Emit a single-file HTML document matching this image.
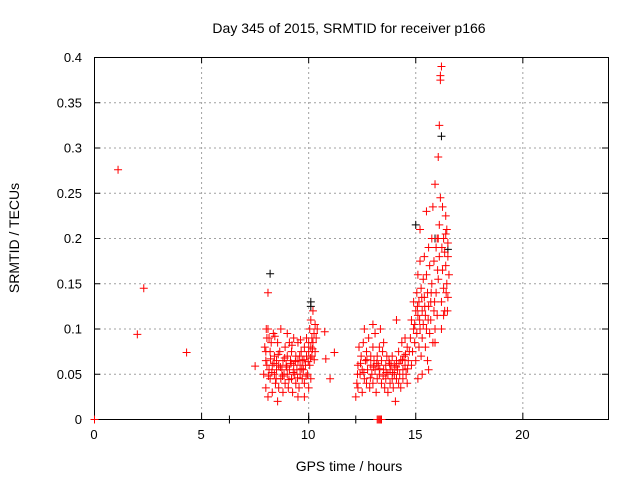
<!DOCTYPE html>
<html><head><meta charset="utf-8"><style>
body{margin:0;background:#fff}
svg{display:block;font-family:"Liberation Sans",sans-serif}
</style></head><body>
<svg id="c" width="640" height="480"></svg>
<script>
const xTicks=[0,5,10,15,20];
const yTicks=[0,0.05,0.1,0.15,0.2,0.25,0.3,0.35,0.4];
const yTickLabels=["0","0.05","0.1","0.15","0.2","0.25","0.3","0.35","0.4"];
const redSeries=[
[0,0],[1.1,.276],[2.3,.145],[2.0,.094],[4.3,.074],[7.5,.059],[8.1,.14],[10.8,.067],[11.2,.074],[11.0,.045],[10.75,.097],
[13.2,0],[13.25,0],[13.3,0],[13.35,0],[13.4,0],
[7.9,.05],[7.95,.08],[8.0,.065],[8.0,.035],[8.05,.09],[8.1,.025],[8.1,.1],[8.15,.055],[8.2,.075],[8.2,.045],[8.25,.085],[8.3,.06],[8.3,.03],[8.35,.095],[8.4,.05],[8.4,.07],[8.45,.04],[8.5,.065],[8.5,.055],[8.55,.085],[8.6,.035],[8.6,.06],[8.65,.075],[8.7,.045],[8.7,.1],[8.75,.055],[8.8,.065],[8.8,.03],[8.85,.05],[8.9,.08],[8.9,.04],[8.95,.06],[9.0,.07],[9.0,.05],[9.05,.035],[9.1,.085],[9.1,.055],[9.15,.065],[9.2,.045],[9.2,.075],[9.25,.03],[9.3,.06],[9.3,.09],[9.35,.05],[9.4,.07],[9.4,.04],[9.45,.055],[9.5,.065],[9.5,.085],[9.55,.035],[9.6,.06],[9.6,.05],[9.65,.075],[9.7,.045],[9.7,.065],[9.75,.055],[9.8,.08],[9.8,.04],[9.85,.06],[9.9,.07],[9.9,.09],[9.95,.05],[10.0,.075],[10.0,.085],[10.05,.06],[10.05,.1],[10.1,.08],[10.1,.11],[10.15,.07],[10.15,.09],[10.2,.12],[10.2,.085],[10.25,.095],[10.3,.105],[10.3,.075],[10.35,.09],[10.4,.1],[9.5,.025],[8.55,.02],[9.0,.095],[8.0,.075],[8.15,.09],[9.8,.025],[10.1,.045],[10.0,.035],
[8.05,.06],[8.12,.048],[8.22,.067],[8.28,.052],[8.38,.062],[8.48,.045],[8.58,.072],[8.68,.058],[8.78,.048],[8.88,.068],[8.98,.058],[9.08,.044],[9.18,.062],[9.28,.052],[9.38,.064],[9.48,.046],[9.58,.07],[9.68,.056],[9.78,.066],[9.88,.048],[9.98,.064],[10.08,.068],[10.18,.078],[10.26,.066],[8.02,.1],[8.42,.092],[9.22,.082],[9.62,.088],
[12.2,.025],[12.25,.04],[12.3,.06],[12.3,.035],[12.35,.08],[12.4,.05],[12.45,.07],[12.5,.03],[12.5,.055],[12.55,.085],[12.6,.045],[12.65,.065],[12.7,.04],[12.7,.075],[12.75,.055],[12.8,.09],[12.85,.035],[12.9,.06],[12.9,.07],[12.95,.05],[13.0,.08],[13.0,.04],[13.05,.065],[13.1,.055],[13.1,.095],[13.15,.03],[13.2,.07],[13.2,.045],[13.25,.06],[13.3,.08],[13.3,.05],[13.35,.1],[13.4,.065],[13.4,.04],[13.45,.075],[13.5,.055],[13.5,.085],[13.55,.035],[13.6,.06],[13.6,.045],[13.65,.07],[13.7,.05],[13.7,.03],[13.75,.065],[13.8,.055],[13.8,.04],[13.85,.06],[13.9,.045],[13.9,.07],[13.95,.035],[14.0,.05],[14.0,.06],[14.05,.02],[14.1,.065],[14.1,.045],[14.15,.055],[14.2,.04],[14.2,.075],[14.25,.05],[14.3,.065],[14.3,.035],[14.35,.085],[14.4,.055],[14.4,.045],[14.45,.07],[14.5,.06],[14.5,.09],[14.55,.05],[14.6,.08],[14.6,.04],[14.65,.065],[14.7,.075],[12.6,.1],[13.0,.105],[14.1,.11],
[12.28,.05],[12.42,.062],[12.58,.052],[12.72,.066],[12.88,.046],[13.02,.058],[13.18,.062],[13.32,.056],[13.48,.048],[13.62,.052],[13.78,.062],[13.92,.052],[14.08,.058],[14.22,.062],[14.38,.066],[14.52,.072],[14.62,.056],
[14.75,.09],[14.8,.06],[14.8,.11],[14.85,.075],[14.9,.1],[14.9,.13],[14.95,.085],[15.0,.12],[15.0,.065],[15.05,.14],[15.05,.095],[15.1,.115],[15.1,.16],[15.15,.08],[15.15,.13],[15.2,.1],[15.2,.175],[15.25,.145],[15.25,.07],[15.3,.12],[15.3,.09],[15.35,.155],[15.35,.105],[15.4,.135],[15.4,.18],[15.45,.08],[15.45,.115],[15.5,.16],[15.5,.1],[15.55,.14],[15.55,.065],[15.6,.125],[15.6,.19],[15.65,.095],[15.65,.17],[15.7,.13],[15.7,.11],[15.75,.2],[15.75,.15],[15.8,.085],[15.8,.235],[15.85,.12],[15.85,.175],[15.9,.1],[15.9,.26],[15.95,.14],[15.95,.19],[16.0,.2],[16.0,.115],[16.05,.29],[16.05,.155],[16.1,.325],[16.1,.215],[16.1,.18],[16.15,.375],[16.15,.245],[16.2,.39],[16.2,.13],[16.2,.1],[16.25,.235],[16.25,.165],[16.3,.2],[16.3,.145],[16.35,.185],[16.35,.12],[16.4,.225],[16.4,.17],[16.45,.21],[16.45,.15],[16.5,.195],[16.5,.18],[16.5,.135],[16.55,.16],[15.3,.05],[15.6,.055],[15.1,.045],[15.9,.085],[16.05,.2],[16.3,.115],[16.15,.38],[15.2,.21],[15.5,.23],[16.4,.205],
[14.95,.105],[15.08,.125],[15.18,.11],[15.28,.135],[15.42,.125],[15.58,.11],[15.72,.14],[15.88,.13],[16.02,.165],[16.22,.19],[16.42,.14],[16.48,.12]
];
const blackSeries=[[8.2,.161],[10.1,.13],[10.1,.125],[15.0,.215],[16.2,.313],[15.9,.2],[16.5,.188],[6.3,0],[12.2,0],[10.0,0]];

const L=94,R=608,T=57,B=419,XMAX=24,YMAX=0.4;
const sx=v=>L+(R-L)*v/XMAX, sy=v=>B-(B-T)*v/YMAX;
const svg=document.getElementById('c'),NS='http://www.w3.org/2000/svg';
function mk(tag,attrs,parent){const e=document.createElementNS(NS,tag);for(const k in attrs)e.setAttribute(k,attrs[k]);(parent||svg).appendChild(e);return e;}
const grid=mk('g',{stroke:'#a0a0a0','stroke-dasharray':'2,3','stroke-width':1});


xTicks.forEach(v=>{if(v>0){mk('line',{x1:sx(v)+.5,x2:sx(v)+.5,y1:T,y2:B},grid);}});
yTicks.forEach(v=>{if(v>0){mk('line',{x1:L,x2:R,y1:sy(v)+.5,y2:sy(v)+.5},grid);}});
const ax=mk('g',{stroke:'#000','stroke-width':1});


mk('rect',{x:L+.5,y:T+.5,width:R-L,height:B-T,fill:'none'},ax);
xTicks.forEach(v=>{mk('line',{x1:sx(v)+.5,x2:sx(v)+.5,y1:B,y2:B-6},ax);mk('line',{x1:sx(v)+.5,x2:sx(v)+.5,y1:T,y2:T+6},ax);});
yTicks.forEach(v=>{mk('line',{x1:L,x2:L+6,y1:sy(v)+.5,y2:sy(v)+.5},ax);mk('line',{x1:R,x2:R-6,y1:sy(v)+.5,y2:sy(v)+.5},ax);});
xTicks.forEach(v=>{const t=mk('text',{x:sx(v),y:B+20,'text-anchor':'middle','font-size':13});t.textContent=v;

});
yTicks.forEach((v,i)=>{const t=mk('text',{x:L-12,y:sy(v)+5,'text-anchor':'end','font-size':13});t.textContent=yTickLabels[i];

});
function plus(g,d,col){const x=sx(d[0])+.5,y=sy(d[1])+.5;mk('path',{d:`M${x-4} ${y}H${x+4}M${x} ${y-4}V${y+4}`,stroke:col,'stroke-width':1,fill:'none'},g);}
const gb=mk('g',{});


blackSeries.forEach(d=>plus(gb,d,'#000'));
const gr=mk('g',{});


redSeries.forEach(d=>plus(gr,d,'#f00'));
const ti=mk('text',{x:349,y:33,'text-anchor':'middle','font-size':14});ti.textContent='Day 345 of 2015, SRMTID for receiver p166';


const xl=mk('text',{x:349,y:471,'text-anchor':'middle','font-size':14});xl.textContent='GPS time / hours';


const yl=mk('text',{x:0,y:0,'text-anchor':'middle','font-size':14,transform:'translate(19,238) rotate(-90)'});yl.textContent='SRMTID / TECUs';


</script>
</body></html>
